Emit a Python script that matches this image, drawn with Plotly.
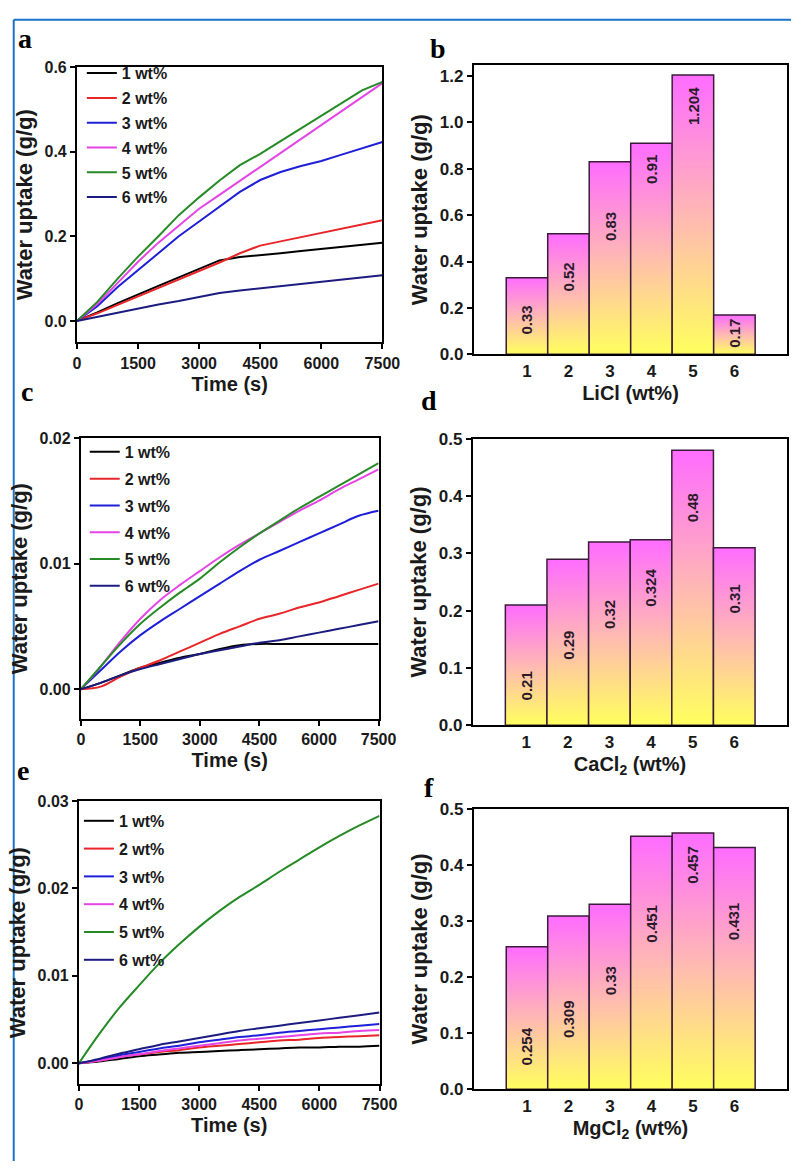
import plotly.graph_objects as go

# ---------------- data ----------------
time_s = [0, 500, 1000, 1500, 2000, 2500, 3000, 3500, 4000, 4500, 5000, 5500, 6000, 6500, 7000, 7500]
series_names = ["1 wt%", "2 wt%", "3 wt%", "4 wt%", "5 wt%", "6 wt%"]
line_colors = ["#000000", "#e8262a", "#1f1fd8", "#e545e5", "#268a26", "#1c1c80"]

# panel a (LiCl)
a_1wt = [0, 0.020, 0.042, 0.063, 0.083, 0.103, 0.123, 0.143, 0.151, 0.155, 0.160, 0.165, 0.170, 0.175, 0.180, 0.185]
a_2wt = [0, 0.018, 0.038, 0.058, 0.077, 0.097, 0.117, 0.138, 0.160, 0.178, 0.188, 0.198, 0.208, 0.218, 0.228, 0.238]
a_3wt = [0, 0.035, 0.080, 0.120, 0.160, 0.200, 0.235, 0.270, 0.305, 0.333, 0.352, 0.366, 0.378, 0.393, 0.408, 0.423]
a_4wt = [0, 0.040, 0.090, 0.140, 0.185, 0.225, 0.265, 0.298, 0.331, 0.364, 0.397, 0.430, 0.463, 0.496, 0.529, 0.562]
a_5wt = [0, 0.045, 0.100, 0.152, 0.200, 0.250, 0.292, 0.332, 0.368, 0.395, 0.425, 0.455, 0.485, 0.515, 0.545, 0.565]
a_6wt = [0, 0.010, 0.020, 0.030, 0.039, 0.047, 0.056, 0.066, 0.072, 0.077, 0.082, 0.087, 0.092, 0.098, 0.103, 0.108]

# panel c (CaCl2)
c_1wt = [0, 0.0005, 0.0011, 0.0017, 0.0021, 0.0025, 0.0028, 0.0032, 0.0035, 0.0036, 0.0036, 0.0036, 0.0036, 0.0036, 0.0036, 0.0036]
c_2wt = [0, 0.0002, 0.0010, 0.0017, 0.0023, 0.0030, 0.0037, 0.0044, 0.0050, 0.0056, 0.0060, 0.0065, 0.0069, 0.0074, 0.0079, 0.0084]
c_3wt = [0, 0.0015, 0.0030, 0.0043, 0.0054, 0.0064, 0.0074, 0.0084, 0.0094, 0.0103, 0.0110, 0.0117, 0.0124, 0.0131, 0.0138, 0.0142]
c_4wt = [0, 0.0018, 0.0038, 0.0056, 0.0071, 0.0083, 0.0094, 0.0105, 0.0115, 0.0124, 0.0133, 0.0142, 0.0150, 0.0159, 0.0167, 0.0175]
c_5wt = [0, 0.0018, 0.0036, 0.0052, 0.0065, 0.0077, 0.0088, 0.0101, 0.0113, 0.0124, 0.0134, 0.0144, 0.0153, 0.0162, 0.0171, 0.0180]
c_6wt = [0, 0.0005, 0.0011, 0.0016, 0.0020, 0.0024, 0.0028, 0.0031, 0.0034, 0.0037, 0.0039, 0.0042, 0.0045, 0.0048, 0.0051, 0.0054]

# panel e (MgCl2)
e_1wt = [0, 0.0002, 0.0005, 0.0008, 0.0010, 0.0012, 0.0013, 0.0014, 0.0015, 0.0016, 0.0017, 0.0018, 0.0018, 0.0019, 0.0019, 0.0020]
e_2wt = [0, 0.0003, 0.0007, 0.0010, 0.0013, 0.0015, 0.0018, 0.0020, 0.0022, 0.0024, 0.0026, 0.0027, 0.0029, 0.0030, 0.0031, 0.0032]
e_3wt = [0, 0.0004, 0.0009, 0.0013, 0.0017, 0.0020, 0.0024, 0.0027, 0.0030, 0.0032, 0.0035, 0.0037, 0.0039, 0.0041, 0.0043, 0.0045]
e_4wt = [0, 0.0003, 0.0007, 0.0010, 0.0014, 0.0017, 0.0020, 0.0023, 0.0026, 0.0028, 0.0030, 0.0032, 0.0034, 0.0035, 0.0037, 0.0038]
e_5wt = [0, 0.0033, 0.0063, 0.0089, 0.0114, 0.0136, 0.0156, 0.0174, 0.0190, 0.0204, 0.0219, 0.0233, 0.0247, 0.0260, 0.0272, 0.0283]
e_6wt = [0, 0.0005, 0.0011, 0.0016, 0.0021, 0.0025, 0.0029, 0.0033, 0.0037, 0.0040, 0.0043, 0.0046, 0.0049, 0.0052, 0.0055, 0.0058]

# bar panels
salt_conc = [1, 2, 3, 4, 5, 6]
licl_uptake = [0.33, 0.52, 0.83, 0.91, 1.204, 0.17]
cacl2_uptake = [0.21, 0.29, 0.32, 0.324, 0.48, 0.31]
mgcl2_uptake = [0.254, 0.309, 0.33, 0.451, 0.457, 0.431]
licl_labels = ["0.33", "0.52", "0.83", "0.91", "1.204", "0.17"]
cacl2_labels = ["0.21", "0.29", "0.32", "0.324", "0.48", "0.31"]
mgcl2_labels = ["0.254", "0.309", "0.33", "0.451", "0.457", "0.431"]
# vertical centre of each value label (data units)
licl_label_y = [0.15, 0.333, 0.553, 0.797, 1.07, 0.09]
cacl2_label_y = [0.068, 0.14, 0.193, 0.24, 0.38, 0.22]
mgcl2_label_y = [0.076, 0.126, 0.194, 0.296, 0.40, 0.30]

# ---------------- style ----------------
W, H = 809, 1171
FONT = "Arial, 'Liberation Sans', sans-serif"
SERIF = "'Times New Roman', 'Liberation Serif', serif"
TXT = "#1a1a1a"
BAR_SCALE = [[0, "#ffff5e"], [0.5, "#ffb8b4"], [1, "#ff6cff"]]
BAR_EDGE = "#3a1c3a"


def px_x(a, b):
    return [a / W, b / W]


def px_y(top, bottom):
    return [1 - bottom / H, 1 - top / H]


def axis_style(**kw):
    d = dict(showline=True, linecolor="black", linewidth=2, mirror=True,
             showgrid=False, zeroline=False, ticks="outside", ticklen=5,
             tickwidth=2, tickcolor="black",
             tickfont=dict(family=FONT, size=16, color=TXT, weight="bold"))
    d.update(kw)
    return d


def title_style(text, size=20, standoff=6):
    return dict(text=text, font=dict(family=FONT, size=size, color=TXT, weight="bold"),
                standoff=standoff)


fig = go.Figure()

line_panels = [
    ("x", "y", "legend", [a_1wt, a_2wt, a_3wt, a_4wt, a_5wt, a_6wt], "a"),
    ("x3", "y3", "legend2", [c_1wt, c_2wt, c_3wt, c_4wt, c_5wt, c_6wt], "c"),
    ("x5", "y5", "legend3", [e_1wt, e_2wt, e_3wt, e_4wt, e_5wt, e_6wt], "e"),
]
for xa, ya, lg, series, tag in line_panels:
    for name, col, vals in zip(series_names, line_colors, series):
        fig.add_trace(go.Scatter(
            x=time_s, y=vals, name=name, mode="lines",
            line=dict(color=col, width=2, shape="linear" if tag == "a" else "spline"),
            xaxis=xa, yaxis=ya, legend=lg, legendgroup=tag + name,
        ))

bar_panels = [
    ("x2", "y2", licl_uptake, licl_labels, licl_label_y),
    ("x4", "y4", cacl2_uptake, cacl2_labels, cacl2_label_y),
    ("x6", "y6", mgcl2_uptake, mgcl2_labels, mgcl2_label_y),
]
annotations = []
for xa, ya, vals, labels, label_y in bar_panels:
    for c, v, lab, ly in zip(salt_conc, vals, labels, label_y):
        fig.add_trace(go.Scatter(
            x=[c - 0.5, c + 0.5, c + 0.5, c - 0.5, c - 0.5],
            y=[0, 0, v, v, 0],
            mode="lines", fill="toself",
            fillgradient=dict(type="vertical", colorscale=BAR_SCALE),
            line=dict(color=BAR_EDGE, width=1.5),
            showlegend=False, hoverinfo="skip", xaxis=xa, yaxis=ya,
        ))
        annotations.append(dict(
            x=c, y=ly, xref=xa, yref=ya, text=lab, showarrow=False, textangle=-90,
            font=dict(family=FONT, size=15, color="#2a1a2a", weight="bold"),
        ))

# panel letters
for letter, lx, ly in [("a", 12, 30), ("b", 436, 40), ("c", 15, 389),
                       ("d", 427, 398), ("e", 11, 774), ("f", 430, 791)]:
    annotations.append(dict(
        x=lx / W, y=1 - ly / H, xref="paper", yref="paper", xanchor="left", yanchor="middle",
        text=letter, showarrow=False,
        font=dict(family=SERIF, size=28, color="black", weight="bold"),
    ))

time_ticks = dict(tickmode="array", tickvals=[0, 1500, 3000, 4500, 6000, 7500])
conc_ticks = dict(tickmode="array", tickvals=salt_conc, ticks="",
                  tickfont=dict(family=FONT, size=17, color=TXT, weight="bold"))

legend_common = dict(xanchor="left", yanchor="top", bgcolor="rgba(0,0,0,0)",
                     borderwidth=0, itemwidth=30,
                     font=dict(family=FONT, size=16, color=TXT, weight="bold"))

fig.update_layout(
    width=W, height=H, margin=dict(l=0, r=0, t=0, b=0),
    paper_bgcolor="white", plot_bgcolor="white",
    # panel a
    xaxis=axis_style(domain=px_x(75, 389), range=[0, 7500], anchor="y",
                     title=title_style("Time (s)"), **time_ticks),
    yaxis=axis_style(domain=px_y(59, 339), range=[-0.051, 0.6], anchor="x",
                     tickvals=[0, 0.2, 0.4, 0.6], tickformat=".1f",
                     title=title_style("Water uptake (g/g)", 22)),
    # panel b
    xaxis2=axis_style(domain=px_x(483, 805), range=[-0.28, 7.27], anchor="y2",
                      title=title_style("LiCl (wt%)"), **conc_ticks),
    yaxis2=axis_style(domain=px_y(57, 351), range=[0, 1.247], anchor="x2",
                      tickvals=[0, 0.2, 0.4, 0.6, 0.8, 1.0, 1.2], tickformat=".1f",
                      tickfont=dict(family=FONT, size=17, color=TXT, weight="bold"),
                      title=title_style("Water uptake (g/g)", 22)),
    # panel c
    xaxis3=axis_style(domain=px_x(79, 385), range=[0, 7500], anchor="y3",
                      title=title_style("Time (s)"), **time_ticks),
    yaxis3=axis_style(domain=px_y(436, 722), range=[-0.0024, 0.02], anchor="x3",
                      tickvals=[0, 0.01, 0.02], tickformat=".2f",
                      title=title_style("Water uptake (g/g)", 22)),
    # panel d
    xaxis4=axis_style(domain=px_x(482, 805), range=[-0.28, 7.27], anchor="y4",
                      title=title_style("CaCl<sub>2</sub> (wt%)"), **conc_ticks),
    yaxis4=axis_style(domain=px_y(437, 728), range=[0, 0.5], anchor="x4",
                      tickvals=[0, 0.1, 0.2, 0.3, 0.4, 0.5], tickformat=".1f",
                      tickfont=dict(family=FONT, size=17, color=TXT, weight="bold"),
                      title=title_style("Water uptake (g/g)", 22)),
    # panel e
    xaxis5=axis_style(domain=px_x(77, 386), range=[0, 7500], anchor="y5",
                      title=title_style("Time (s)"), **time_ticks),
    yaxis5=axis_style(domain=px_y(805, 1093), range=[-0.0024, 0.03], anchor="x5",
                      tickvals=[0, 0.01, 0.02, 0.03], tickformat=".2f",
                      title=title_style("Water uptake (g/g)", 22)),
    # panel f
    xaxis6=axis_style(domain=px_x(483, 805), range=[-0.28, 7.27], anchor="y6",
                      title=title_style("MgCl<sub>2</sub> (wt%)"), **conc_ticks),
    yaxis6=axis_style(domain=px_y(813, 1098), range=[0, 0.5], anchor="x6",
                      tickvals=[0, 0.1, 0.2, 0.3, 0.4, 0.5], tickformat=".1f",
                      tickfont=dict(family=FONT, size=17, color=TXT, weight="bold"),
                      title=title_style("Water uptake (g/g)", 22)),
    legend=dict(x=80 / W, y=1 - 48 / H, tracegroupgap=1, **legend_common),
    legend2=dict(x=83 / W, y=1 - 433 / H, tracegroupgap=3, **legend_common),
    legend3=dict(x=77 / W, y=1 - 808 / H, tracegroupgap=4, **legend_common),
    annotations=annotations,
    shapes=[
        dict(type="line", xref="paper", yref="paper", x0=10 / W, x1=10 / W, y0=0, y1=1 - 11 / H,
             line=dict(color="#1a73c9", width=2)),
        dict(type="line", xref="paper", yref="paper", x0=10 / W, x1=1, y0=1 - 11 / H, y1=1 - 11 / H,
             line=dict(color="#1a73c9", width=2)),
    ],
    showlegend=True,
)

fig.write_html("out.html")
